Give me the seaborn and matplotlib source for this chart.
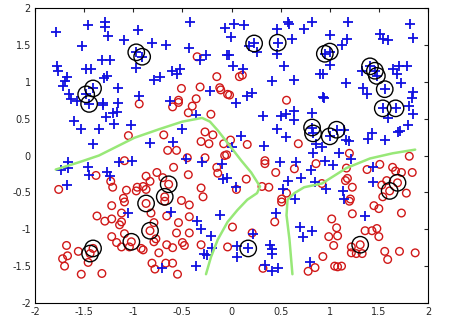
import numpy as np
import pandas as pd
import seaborn as sns
import matplotlib
matplotlib.use('Agg')
import matplotlib.pyplot as plt

sns.set_style('white')

# class +1 (blue plus markers)
pos_x = [-1.79, -1.46, -1.29, -1.29, -1.26, -1.09, -1.52, -1.78, -1.77, -1.68, -1.70, -1.72, -1.48, -1.43,
         -1.32, -1.24, -1.30, -1.27, -1.41, -1.48, -1.45, -1.65, -1.63, -1.57, -1.16, -1.16, -1.31, -0.97, -0.91,
         -0.95, -0.42, -0.07, -0.81, -0.67, -0.43, -0.26, -0.32, -0.05, -0.97, -0.61, -0.52, -0.56, -0.73, -0.79,
         -0.22, -0.94, -0.63,
         0.03, 0.13, -0.01, 0.23, 0.47, 0.57, 0.59, 0.82, 0.74, 0.46, 0.62, 0.18, 0.26, 0.46, -0.03, 0.01, 0.12,
         0.53, 0.41, 0.64, 0.90, 0.16, 0.21, 0.05, 0.93,
         1.19, 1.82, 1.85, 1.00, 1.18, 1.51, 1.54, 1.59, 1.12, 0.95, 1.00, 1.00, 0.93, 1.41, 1.46, 1.48, 1.33,
         1.64, 1.71, 1.79, 1.68, 1.73, 1.17, 1.34, 1.38, 1.56, 1.85, 1.84, 0.94,
         -1.31, -1.21, -1.17, -1.28, -1.20, -1.60, -1.53, -1.35, -1.02, -1.41, -1.67, -1.74, -1.66, -1.46, -1.45,
         -1.27, -1.24, -1.15, -1.01, -1.68,
         -0.50, -0.83, -0.60, -0.36, -0.46, -0.30, -0.10, -0.09,
         0.32, 0.50, 0.55, 0.64, 0.64, 0.82, 0.46, 0.55, 0.10, 0.82, 0.83, 0.86, 0.83, 0.33, 0.00, 0.49, 0.66,
         0.81, 0.57, 0.71, 0.85, -0.05, 0.05, 0.52, 0.65,
         1.54, 1.67, 1.81, 1.85, 1.59, 1.80, 1.69, 1.72, 1.07, 1.00, 1.15, 1.17, 1.20, 1.43, 1.39, 1.56, 0.92,
         1.09, 1.22, 0.95, 1.03, 1.44, 1.44, 0.96, 1.14, 1.15,
         -1.05, -0.62, -0.35, -0.12, -0.31, -0.21, -0.20, -0.28, -0.25, -0.36, -0.71,
         0.45, 0.22, 0.06, 0.06, 0.17, 0.39, 0.41, 0.41, 0.70, 0.82, 0.73, 0.80, 0.34, 0.41, 0.47, 1.36]
pos_y = [1.68, 1.77, 1.81, 1.74, 1.62, 1.57, 1.49, 1.22, 1.14, 1.07, 1.01, 0.94, 1.17, 1.17,
         1.30, 1.29, 1.05, 1.08, 0.91, 0.83, 0.70, 0.83, 0.77, 0.74, 0.91, 0.71, 0.71, 1.40, 1.34,
         1.70, 1.81, 1.73, 1.52, 1.50, 1.46, 1.37, 1.29, 1.37, 1.19, 1.15, 1.18, 1.10, 1.07, 1.02,
         0.87, 0.81, 0.74,
         1.78, 1.77, 1.61, 1.52, 1.53, 1.81, 1.78, 1.81, 1.72, 1.72, 1.58, 1.48, 1.41, 1.38, 1.37, 1.22, 1.18,
         1.21, 1.01, 1.02, 1.10, 0.81, 0.85, 0.71, 0.79,
         1.81, 1.79, 1.60, 1.64, 1.58, 1.65, 1.58, 1.57, 1.50, 1.38, 1.41, 1.23, 1.11, 1.21, 1.15, 1.08, 1.14,
         1.18, 1.22, 1.21, 1.10, 0.98, 0.98, 0.91, 0.83, 0.90, 0.86, 0.78, 0.78,
         0.68, 0.58, 0.59, 0.52, 0.43, 0.47, 0.36, 0.36, 0.42, 0.16, -0.09, -0.20, -0.17, -0.15, -0.27,
         -0.23, -0.28, -0.09, -0.07, -0.40,
         0.36, 0.17, 0.19, 0.55, -0.05, -0.09, -0.11, -0.32,
         0.54, 0.54, 0.56, 0.60, 0.48, 0.58, 0.36, 0.25, 0.27, 0.38, 0.30, 0.16, 0.04, 0.13, 0.11, -0.09, -0.09,
         -0.20, -0.34, -0.31, -0.36, -0.31, -0.43, -0.46, -0.59,
         0.64, 0.64, 0.67, 0.56, 0.51, 0.42, 0.32, 0.33, 0.35, 0.26, 0.34, 0.21, 0.20, 0.31, 0.23, 0.21, 0.11,
         0.04, -0.05, -0.08, -0.13, -0.16, -0.36, -0.46, -0.48, -0.59,
         -0.78, -0.76, -0.89, -0.81, -0.99, -1.09, -1.26, -1.33, -1.35, -1.50, -1.52,
         -0.78, -1.07, -1.23, -1.38, -1.26, -1.21, -1.27, -1.33, -0.97, -1.02, -1.11, -1.45, -1.48, -1.57, -1.53, -0.82]

# class -1 (red circles)
neg_x = [-0.35, -0.15, -0.51, -0.32, -0.12, -0.11, -0.36, -0.54, -0.04, -0.94,
         0.08, 0.11, -0.02, 0.56,
         -1.05, -1.09, -1.38, -1.23, -1.21, -1.76, -1.07, -1.10,
         -0.60, -0.54, -0.40, -0.44, -0.21, -0.69, -0.27, -0.19, -0.31, -0.23, -0.08, -0.65, -0.56, -0.45, -0.27,
         -0.07, -0.59, -0.44, -0.15, -0.14, -0.87, -0.76, -0.83, -0.70, -0.96, -0.90, -0.97, -0.87, -0.64, -0.68,
         -0.31, -0.29, -0.51, -0.87,
         -0.01, 0.16, 0.68, -0.05, 0.34, 0.34, 0.45, 0.64, 0.86, 0.15, 0.05, 0.31, 0.38, 0.56, 0.51, 0.92,
         1.20, 1.17, 1.81, 1.38, 1.51, 1.64, 1.67, 1.73, 1.84, 1.18, 1.16, 1.23, 1.58, 1.69, 1.61, 1.53, 1.54,
         1.78, 1.21,
         -1.22, -1.09, -1.12, -1.37, -1.29, -1.22, -1.12, -1.14, -1.09, -1.22, -1.17, -1.12, -1.04, -1.02, -1.68,
         -1.56, -1.67, -1.72, -1.70, -1.41, -1.44, -1.46, -1.53, -1.32,
         -0.68, -0.43, -0.82, -0.66, -0.79, -0.54, -0.43, -0.83, -0.56, -0.43, -0.77, -0.79, -0.92, -0.90, -0.66,
         -0.60, -0.50, -0.48, -0.74, -0.31, -0.81, -0.67, -0.60, -0.78, -0.55, -0.04,
         0.51, 0.44, 0.01, 0.21, 0.32, 0.93, 0.85, 0.78,
         1.20, 1.45, 1.50, 1.73, 1.23, 1.02, 1.07, 0.99, 1.08, 1.04, 1.36, 1.43, 1.48, 1.50, 1.31, 1.22, 1.22,
         1.27, 1.33, 1.56, 1.59, 1.71, 1.87, 1.05, 1.08, 1.12]
neg_y = [1.34, 1.07, 0.91, 0.93, 0.92, 0.89, 0.77, 0.75, 0.83, 0.70,
         1.07, 1.09, 0.82, 0.75,
         0.27, -0.07, -0.27, -0.35, -0.43, -0.46, -0.47, -0.58,
         0.66, 0.72, 0.67, 0.58, 0.56, 0.28, 0.32, 0.28, 0.19, 0.16, 0.16, 0.07, 0.07, -0.03, -0.03,
         0.00, -0.16, -0.26, -0.16, -0.24, -0.28, -0.23, -0.35, -0.30, -0.43, -0.42, -0.48, -0.46, -0.39, -0.56,
         -0.44, -0.56, -0.61, -0.65,
         0.21, 0.15, 0.16, 0.01, -0.07, -0.11, -0.23, -0.18, -0.11, -0.32, -0.46, -0.42, -0.43, -0.51, -0.59, -0.38,
         0.03, -0.17, -0.01, -0.19, -0.12, -0.16, -0.21, -0.23, -0.23, -0.31, -0.34, -0.43, -0.34, -0.37, -0.48,
         -0.40, -0.56, -0.51, -0.59,
         -0.68, -0.63, -0.78, -0.82, -0.89, -0.86, -0.90, -0.94, -1.06, -1.10, -1.18, -1.24, -1.24, -1.17, -1.22,
         -1.30, -1.36, -1.40, -1.50, -1.26, -1.33, -1.45, -1.61, -1.60,
         -0.62, -0.67, -0.78, -0.82, -0.91, -0.91, -0.83, -1.02, -1.05, -1.05, -1.13, -1.17, -1.26, -1.28, -1.21,
         -1.25, -1.18, -1.22, -1.32, -1.21, -1.46, -1.46, -1.46, -1.54, -1.61, -1.24,
         -0.63, -0.90, -0.97, -1.05, -1.53, -1.37, -1.52, -1.57,
         -0.62, -0.68, -0.72, -0.78, -0.79, -0.86, -0.98, -1.10, -1.09, -1.22, -1.02, -1.02, -0.99, -1.10, -1.21,
         -1.24, -1.32, -1.33, -1.33, -1.30, -1.41, -1.30, -1.32, -1.50, -1.51, -1.50]

# support vectors (black circles)
sv_x = [-0.97, -0.91, -1.41, -1.48, -1.45, 0.23, 0.47, 0.95, 1.00, 1.41, 1.46, 1.48, 1.56, 1.54, 1.67,
        1.07, 1.00, 0.82, 0.83, -0.64, -0.68, -0.87, -0.83, -1.02, -1.41, -1.44, 0.17, 1.31, 1.69, 1.61]
sv_y = [1.40, 1.34, 0.91, 0.83, 0.70, 1.52, 1.53, 1.38, 1.41, 1.21, 1.15, 1.08, 0.90, 0.64, 0.64,
        0.35, 0.26, 0.38, 0.30, -0.39, -0.56, -0.65, -1.02, -1.17, -1.26, -1.33, -1.26, -1.21, -0.37, -0.48]

# decision boundary (green)
b1_x = [-1.79, -1.55, -1.35, -0.99, -0.73, -0.50, -0.30, -0.22, -0.14, -0.04, 0.10, 0.20, 0.29,
        0.26, 0.16, 0.06, -0.04, -0.14, -0.21, -0.26]
b1_y = [-0.19, -0.09, 0.00, 0.24, 0.36, 0.46, 0.51, 0.46, 0.34, 0.17, -0.07, -0.23, -0.42,
        -0.51, -0.60, -0.74, -0.90, -1.14, -1.38, -1.61]
b2_x = [1.87, 1.64, 1.41, 1.17, 0.92, 0.74, 0.64, 0.57, 0.56, 0.59, 0.62]
b2_y = [0.08, 0.03, -0.04, -0.17, -0.38, -0.43, -0.51, -0.60, -0.81, -1.14, -1.61]

ticks = [-2, -1.5, -1, -0.5, 0, 0.5, 1, 1.5, 2]
tick_labels = ['-2', '-1.5', '-1', '-0.5', '0', '0.5', '1', '1.5', '2']

fig = plt.figure(figsize=(4.5, 3.23), dpi=100)
ax = fig.add_axes([0.078, 0.062, 0.873, 0.913])

sns.scatterplot(x=neg_x, y=neg_y, ax=ax, marker='o', s=30, facecolors='none',
                edgecolor='#d01818', linewidth=1.0)
sns.scatterplot(x=pos_x, y=pos_y, ax=ax, marker='+', s=55, color='#1010e0', linewidth=1.3)
sns.lineplot(x=b1_x, y=b1_y, ax=ax, sort=False, estimator=None, color='#98e878', linewidth=1.8)
sns.lineplot(x=b2_x, y=b2_y, ax=ax, sort=False, estimator=None, color='#98e878', linewidth=1.8)
sns.scatterplot(x=sv_x, y=sv_y, ax=ax, marker='o', s=140, facecolors='none',
                edgecolor='black', linewidth=1.0)

ax.set_xlim(-2, 2)
ax.set_ylim(-2, 2)
ax.set_xticks(ticks)
ax.set_xticklabels(tick_labels)
ax.set_yticks(ticks)
ax.set_yticklabels(tick_labels)
ax.tick_params(direction='in', length=3, labelsize=7, top=True, right=True, pad=3)
for s in ax.spines.values():
    s.set_color('black')
    s.set_linewidth(0.8)

plt.savefig('out.png', dpi=100)
